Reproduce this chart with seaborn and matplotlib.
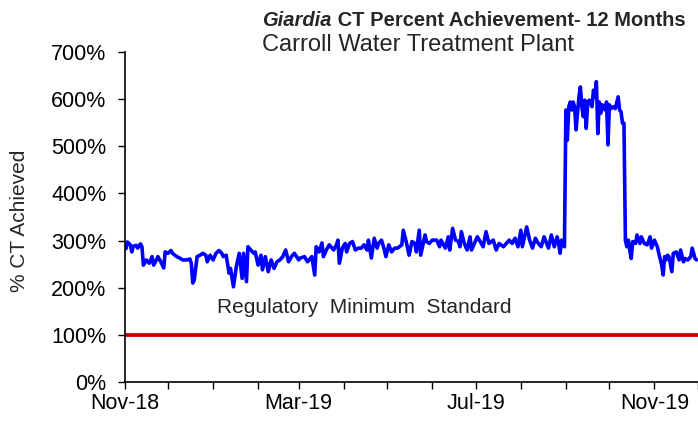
import pandas as pd
import matplotlib
matplotlib.use("Agg")
import matplotlib.pyplot as plt
import matplotlib.dates as mdates
from matplotlib.ticker import FuncFormatter, MultipleLocator
import seaborn as sns

# === data (day offset from 1 Nov 2018, % CT achieved) ===
days = [1, 2, 4, 5, 6, 8, 9, 11, 12, 13, 15, 17, 19, 20, 22, 23, 25, 27, 28, 30,
        32, 33, 36, 38, 40, 43, 45, 46, 47, 48, 50, 52, 54, 56, 57, 59, 61, 63, 65, 67,
        68, 70, 72, 73, 75, 77, 79, 81, 82, 84, 85, 87, 89, 90, 92, 94, 95, 97, 99, 101,
        103, 105, 107, 109, 111, 113, 115, 117, 120, 121, 124, 126, 129, 131, 132, 134, 136, 137, 139, 141,
        144, 146, 147, 148, 150, 152, 153, 155, 157, 159, 161, 163, 165, 167, 168, 170, 172, 174, 175, 177,
        179, 180, 182, 184, 186, 188, 191, 192, 194, 196, 198, 200, 201, 203, 204, 207, 208, 210, 212, 215,
        217, 218, 221, 223, 224, 226, 228, 230, 231, 232, 234, 236, 238, 239, 241, 243, 245, 247, 249, 251,
        254, 256, 258, 261, 263, 265, 267, 269, 271, 273, 274, 277, 279, 281, 283, 285, 287, 289, 292, 294,
        296, 298, 299, 300, 301, 303, 304, 305, 306, 307, 308, 309, 310, 311, 313, 314, 315, 316, 317, 318,
        319, 320, 321, 322, 323, 324, 325, 326, 327, 328, 329, 331, 332, 333, 334, 335, 337, 338, 340, 341,
        342, 343, 344, 345, 346, 347, 348, 349, 350, 352, 353, 355, 356, 358, 360, 362, 363, 365, 367, 368,
        370, 371, 372, 373, 374, 375, 377, 378, 380, 382, 383, 385, 386, 388, 390, 391, 393, 394]
ct_pct = [283, 297, 291, 276, 288, 290, 284, 293, 287, 248, 259, 252, 266, 248, 259, 266, 255, 242, 276, 273,
          279, 273, 266, 263, 259, 259, 261, 252, 210, 216, 266, 269, 273, 269, 255, 269, 259, 273, 279, 273,
          266, 269, 231, 241, 202, 245, 273, 220, 273, 213, 287, 280, 273, 276, 248, 269, 238, 266, 234, 259,
          241, 255, 259, 266, 280, 255, 266, 273, 259, 263, 266, 255, 266, 227, 287, 276, 295, 266, 280, 291,
          280, 291, 301, 252, 284, 294, 276, 294, 298, 280, 284, 284, 291, 280, 301, 263, 305, 284, 294, 301,
          280, 266, 291, 276, 284, 284, 291, 322, 298, 269, 298, 294, 276, 322, 269, 312, 298, 294, 301, 301,
          287, 301, 284, 308, 280, 326, 301, 298, 287, 319, 294, 280, 308, 280, 294, 308, 298, 287, 319, 294,
          301, 280, 294, 287, 294, 301, 294, 305, 287, 322, 287, 329, 301, 284, 305, 294, 287, 308, 284, 312,
          287, 308, 294, 273, 301, 287, 577, 513, 584, 594, 577, 594, 584, 535, 605, 626, 584, 563, 598, 538,
          591, 598, 591, 584, 619, 605, 637, 527, 594, 570, 588, 577, 594, 503, 588, 580, 584, 580, 605, 577,
          573, 549, 549, 300, 287, 301, 280, 262, 298, 294, 312, 294, 308, 294, 291, 308, 284, 301, 287, 273,
          248, 227, 266, 259, 269, 266, 234, 273, 276, 259, 280, 255, 262, 259, 266, 284, 262, 259]

start_date = "2018-11-01"
end_date = "2019-12-01"
reg_minimum = 100

df = pd.DataFrame({"date": pd.Timestamp(start_date) + pd.to_timedelta(days, unit="D"),
                   "pct": ct_pct})
std = pd.DataFrame({"date": pd.to_datetime([start_date, end_date]),
                    "pct": [reg_minimum, reg_minimum]})

# === style ===
sns.set_style("ticks")
plt.rcParams["font.family"] = ["Liberation Sans", "DejaVu Sans"]

fig = plt.figure(figsize=(6.98, 4.21), dpi=100)
ax = fig.add_axes([0.1784, 0.0926, 0.8216, 0.7838])

sns.lineplot(data=std, x="date", y="pct", color="#C00000", linewidth=2.7, ax=ax)
sns.lineplot(data=df, x="date", y="pct", color="#0000FF", linewidth=2.6, ax=ax)

ax.set_xlim(pd.Timestamp(start_date), pd.Timestamp(end_date))
ax.set_ylim(0, 700)
ax.yaxis.set_major_locator(MultipleLocator(100))
ax.yaxis.set_major_formatter(FuncFormatter(lambda v, p: f"{v:.0f}%"))
ax.xaxis.set_major_locator(mdates.MonthLocator(bymonth=[3, 7, 11]))
ax.xaxis.set_minor_locator(mdates.MonthLocator())
ax.xaxis.set_major_formatter(mdates.DateFormatter("%b-%y"))

ax.tick_params(axis="both", which="both", direction="out", length=5, width=1,
               color="black", labelsize=15.5, labelcolor="black")
ax.tick_params(axis="x", pad=3)
ax.tick_params(axis="y", pad=8)
for s in ["top", "right"]:
    ax.spines[s].set_visible(False)
for s in ["left", "bottom"]:
    ax.spines[s].set_color("black")
    ax.spines[s].set_linewidth(1.2)

ax.set_xlabel("")
ax.set_ylabel("% CT Achieved", fontsize=15)
ax.yaxis.set_label_coords(-0.166, 0.49)

ax.text(pd.Timestamp("2019-01-04"), 158, "Regulatory  Minimum  Standard",
        fontsize=15, ha="left", va="center")

# title: italic species name followed by bold text
t1 = fig.text(262 / 698, 1 - 20 / 421, "Giardia", fontsize=14.5, fontweight="bold",
              fontstyle="italic", ha="left", va="center")
ax.annotate(" CT Percent Achievement- 12 Months", xy=(1, 0), xycoords=t1,
            fontsize=14.5, fontweight="bold", ha="left", va="bottom", annotation_clip=False)
fig.text(262 / 698, 1 - 45 / 421, "Carroll Water Treatment Plant", fontsize=17,
         ha="left", va="center")

fig.savefig("out.png", dpi=100)
